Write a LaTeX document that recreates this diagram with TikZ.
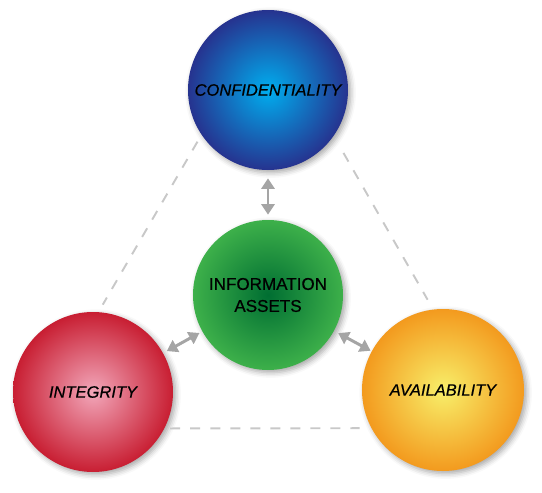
\documentclass[tikz,border=0pt]{standalone}
\usepackage{fontspec}
\setmainfont{Liberation Sans}
\newfontfamily\ciafont[FakeBold=0.5]{Liberation Sans}
\usetikzlibrary{arrows.meta,shadows.blur}
\definecolor{ciablue}{HTML}{00AEEF}
\definecolor{cianavy}{HTML}{26338F}
\definecolor{ciagreen}{HTML}{3DB04A}
\definecolor{ciadkgreen}{HTML}{006E32}
\definecolor{ciapink}{HTML}{F2A7BA}
\definecolor{ciared}{HTML}{C81E32}
\definecolor{ciayellow}{HTML}{F8EF6A}
\definecolor{ciaorange}{HTML}{F39A1E}
\definecolor{ciadash}{HTML}{C8C8C8}
\definecolor{ciaarrow}{HTML}{A5A5A5}

\begin{document}
\begin{tikzpicture}[
  ball/.style={circle, inner sep=0pt, align=center, text=black,
      blur shadow={shadow xshift=1.5pt, shadow yshift=-1.5pt,
                   shadow blur radius=3pt, shadow opacity=35}},
  pillar/.style={font=\ciafont\fontsize{9.4}{11}\selectfont\itshape},
  dashline/.style={draw=ciadash, line width=1.1pt, dash pattern=on 5.7pt off 5.7pt},
  linkarrow/.style={draw=ciaarrow, line width=1.7pt,
      {Triangle[length=6pt,width=7.5pt]}-{Triangle[length=6pt,width=7.5pt]}}
]
\useasboundingbox (0,0) rectangle (10.84,9.86);

\node[ball, pillar, minimum size=3.2cm, inner color=ciablue, outer color=cianavy]
  (conf) at (5.36,8.06) {CONFIDENTIALITY};
\node[ball, minimum size=3.0cm, inner color=ciadkgreen, outer color=ciagreen,
      font=\ciafont\fontsize{9.7}{12.5}\selectfont]
  (info) at (5.36,3.96) {INFORMATION\\ASSETS};
\node[ball, pillar, minimum size=3.2cm, inner color=ciapink, outer color=ciared]
  (integ) at (1.86,2.02) {INTEGRITY};
\node[ball, pillar, minimum size=3.24cm, inner color=ciayellow, outer color=ciaorange]
  (avail) at (8.86,2.06) {AVAILABILITY};

% dashed triangle between the three pillars
\draw[dashline, shorten <=0.156cm, shorten >=0.166cm] (conf.214) -- (integ.86);
\draw[dashline, shorten <=0.388cm, shorten >=0.22cm] (conf.325) -- (avail.97);
\draw[dashline, shorten <=0.112cm, shorten >=0.23cm] (integ.333) -- (avail.208);

\draw[linkarrow, shorten <=0.16cm, shorten >=0.1cm] (conf.south) -- (info.north);
\draw[linkarrow, shorten <=0.06cm, shorten >=0.08cm] (info) -- (integ);
\draw[linkarrow, shorten <=0.09cm, shorten >=0.02cm] (info) -- (avail);
\end{tikzpicture}
\end{document}
